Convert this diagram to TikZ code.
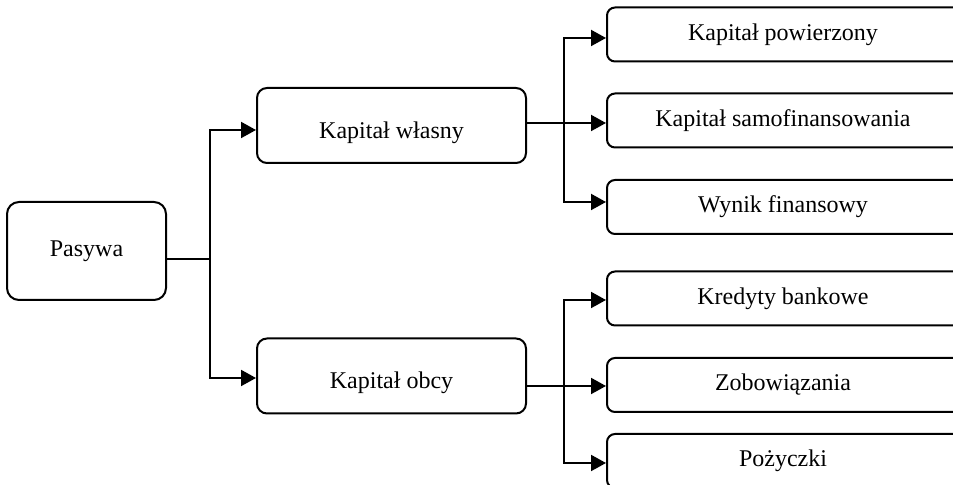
\documentclass[tikz,border=0pt]{standalone}
\usepackage{fontspec}
\setmainfont{Liberation Serif}
\usetikzlibrary{arrows.meta}
\usetikzlibrary{positioning}

\begin{document}
\begin{tikzpicture}[x=0.5pt, y=-0.5pt,
		box/.style={draw, line width=1pt, rounded corners=5pt, inner sep=0pt},
		rootbox/.style={box, rounded corners=6pt, minimum width=79.5pt, minimum height=49pt},
		midbox/.style={box, minimum width=134.5pt, minimum height=37.5pt, text height=15.3pt, text depth=2.6pt},
		leafbox/.style={box, rounded corners=4pt, minimum width=184pt, minimum height=27pt},
		arr/.style={line width=1pt, -{Triangle[length=7.5pt, width=8pt]}}]
		\useasboundingbox (0,0) rectangle (953,485);
		\clip (0,0) rectangle (953,485);
		\fontsize{12}{14}\selectfont
		\node[rootbox] (pasywa) at (86.5,251) {Pasywa};
		\node[midbox] (wlasny) at (391.5,125.5) {Kapitał własny};
		\node[midbox] (obcy) at (391.5,376) {Kapitał obcy};
		\node[leafbox] (powierzony) at (791,34.5) {\hspace*{-8pt}Kapitał powierzony};
		\node[leafbox] (samofin) at (791,120.5) {\hspace*{-8pt}Kapitał samofinansowania};
		\node[leafbox] (wynik) at (791,207) {\hspace*{-8pt}Wynik finansowy};
		\node[leafbox] (kredyty) at (791,298.5) {\hspace*{-8pt}Kredyty bankowe};
		\node[leafbox] (zobow) at (791,385) {\hspace*{-8pt}Zobowiązania};
		\node[leafbox] (pozyczki) at (791,461) {\hspace*{-8pt}Pożyczki};
		\draw[arr] ([yshift=-4pt]pasywa.east) -- ++(43,0) |- ([yshift=-2.25pt]wlasny.west);
		\draw[arr] ([yshift=-4pt]pasywa.east) -- ++(43,0) |- ([yshift=-1pt]obcy.west);
		\draw[arr] ([yshift=1.25pt]wlasny.east) -- ++(37,0) |- ([yshift=-1.75pt]powierzony.west);
		\draw[arr] ([yshift=1.25pt]wlasny.east) -- ([yshift=-1.25pt]samofin.west);
		\draw[arr] ([yshift=1.25pt]wlasny.east) -- ++(37,0) |- ([yshift=2.5pt]wynik.west);
		\draw[arr] ([yshift=-5pt]obcy.east) -- ++(37,0) |- ([yshift=-0.75pt]kredyty.west);
		\draw[arr] ([yshift=-5pt]obcy.east) -- ([yshift=-0.5pt]zobow.west);
		\draw[arr] ([yshift=-5pt]obcy.east) -- ++(37,0) |- ([yshift=-1pt]pozyczki.west);
	\end{tikzpicture}
\end{document}
